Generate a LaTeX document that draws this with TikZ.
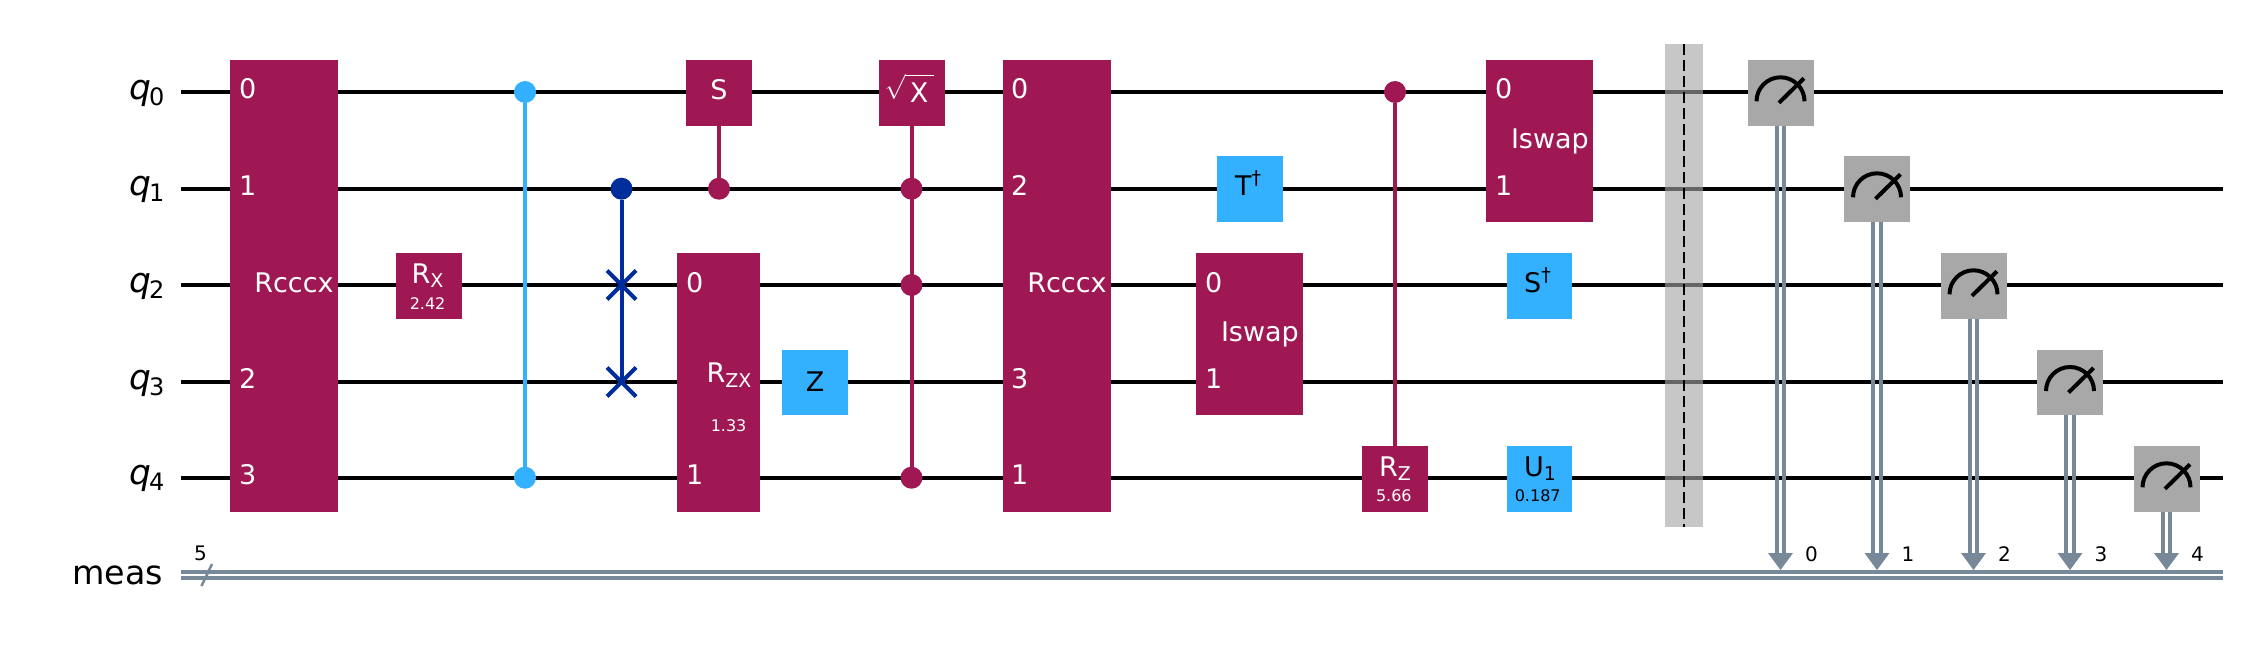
\documentclass[tikz,border=0pt]{standalone}
\usepackage{fontspec}
\setmainfont{DejaVu Sans}
\newcommand{\sbs}[1]{\raisebox{-4.5pt}{\fontsize{19}{20}\selectfont #1}}
\newcommand{\dagg}{\raisebox{11pt}{\fontsize{19}{20}\selectfont †}}
\newcommand{\wsub}[1]{\kern-2pt\raisebox{-6pt}{\fontsize{24}{26}\selectfont\upshape #1}}
\definecolor{mag}{HTML}{9F1853}
\definecolor{sky}{HTML}{33B1FF}
\definecolor{navy}{HTML}{002D9C}
\definecolor{mgray}{HTML}{A8A8A8}
\definecolor{cls}{HTML}{778899}
\tikzset{
 x=1pt,y=-1pt,
 gatebox/.style={rectangle,inner sep=0pt,outer sep=0pt,minimum width=#1},
 wirel/.style={black,line width=4pt},
 clsl/.style={cls,line width=4pt},
 ctrl/.style={line width=4pt},
 gtxt/.style={inner sep=0pt,outer sep=0pt,font=\fontsize{27}{30}\selectfont},
 ptxt/.style={inner sep=0pt,outer sep=0pt,font=\fontsize{16}{18}\selectfont},
 wtxt/.style={inner sep=0pt,outer sep=0pt,font=\fontsize{33.3}{36}\selectfont,anchor=base east},
 qtxt/.style={inner sep=0pt,outer sep=0pt,font=\fontsize{34.5}{38}\selectfont,anchor=base east},
 btxt/.style={inner sep=0pt,outer sep=0pt,font=\fontsize{20}{22}\selectfont,anchor=base},
 dotn/.style={circle,inner sep=0pt,outer sep=0pt,minimum size=22pt},
}
\begin{document}
\begin{tikzpicture}
\useasboundingbox (0,0) rectangle (2245,648);
% wire end points
\foreach \n/\y in {0/92,1/188.7,2/285,3/382,4/477.7}{
  \coordinate (wl\n) at (181,\y);
  \coordinate (wr\n) at (2223,\y);
  \draw[wirel] (wl\n) -- (wr\n);
}
\coordinate (ml1) at (181,572); \coordinate (mr1) at (2223,572);
\coordinate (ml2) at (181,577.7); \coordinate (mr2) at (2223,577.7);
\draw[clsl] (ml1) -- (mr1);
\draw[clsl] (ml2) -- (mr2);
\coordinate (sl1) at (201.5,586); \coordinate (sl2) at (212,564);
\draw[cls,line width=2.5pt] (sl1) -- (sl2);
\node[btxt] (five) at (200.5,560.7) {5};
% wire labels
\node[qtxt] (lq0) at (164.5,99) {\itshape q\wsub{0}};
\node[qtxt] (lq1) at (164.5,195.7) {\itshape q\wsub{1}};
\node[qtxt] (lq2) at (164.5,292) {\itshape q\wsub{2}};
\node[qtxt] (lq3) at (164.5,389) {\itshape q\wsub{3}};
\node[qtxt] (lq4) at (164.5,484.7) {\itshape q\wsub{4}};
\node[wtxt] (lmeas) at (163,584) {meas};
% barrier
\coordinate (bt) at (1684,44); \coordinate (bb) at (1684,526.7);
\fill[color={rgb,255:red,165;green,165;blue,165},opacity=.62] (1665,44) rectangle (1703,526.7);
\draw[black,line width=2pt,dash pattern=on 11pt off 5pt] (bt) -- (bb);
% gates with controls
\node[dotn,fill=sky] (cz0) at (525,92) {};
\node[dotn,fill=sky] (cz4) at (525,477.7) {};
\draw[sky,ctrl] (cz0) -- (cz4);
\node[dotn,fill=navy] (sw1) at (621.5,188.7) {};
\coordinate (sw2) at (621.5,285); \coordinate (sw3) at (621.5,382);
\draw[navy,ctrl] (sw1) -- (sw3);
\draw[navy,ctrl] ([shift={(-14.5,-14.5)}]sw2) -- ([shift={(14.5,14.5)}]sw2);
\draw[navy,ctrl] ([shift={(-14.5,14.5)}]sw2) -- ([shift={(14.5,-14.5)}]sw2);
\draw[navy,ctrl] ([shift={(-14.5,-14.5)}]sw3) -- ([shift={(14.5,14.5)}]sw3);
\draw[navy,ctrl] ([shift={(-14.5,14.5)}]sw3) -- ([shift={(14.5,-14.5)}]sw3);
% Rcccx 1
\fill[mag] (230,60) rectangle (338,511.7);
\node[gtxt,text=white,anchor=base west] (r1a) at (239,98.7) {0};
\node[gtxt,text=white,anchor=base west] (r1b) at (239,195.5) {1};
\node[gtxt,text=white,anchor=base west] (r1c) at (239,388.7) {2};
\node[gtxt,text=white,anchor=base west] (r1d) at (239,484.7) {3};
\node[gtxt,text=white,anchor=base] (r1n) at (294,292.3) {Rcccx};
% Rx
\node[gatebox=66pt,minimum height=65.7pt,fill=mag] (rx) at (429,285.8) {};
\node[gtxt,text=white,anchor=base west] (rxn) at (411.5,283) {R\sbs{X}};
\node[ptxt,text=white,anchor=base] (rxp) at (427.6,309) {2.42};
% S controlled
\node[gatebox=66pt,minimum height=65.7pt,fill=mag] (sg) at (719,92.8) {};
\node[dotn,fill=mag] (sc) at (719,188.7) {};
\draw[mag,ctrl] (sg) -- (sc);
\node[gtxt,text=white,anchor=base] (sn) at (719,99) {S};
% Rzx
\node[gatebox=83pt,minimum height=259pt,fill=mag] (rzx) at (718.5,382.5) {};
\node[gtxt,text=white,anchor=base west] (rzx0) at (686,292) {0};
\node[gtxt,text=white,anchor=base west] (rzx1) at (686,484.7) {1};
\node[gtxt,text=white,anchor=base west] (rzxn) at (706.5,382.7) {R\sbs{ZX}};
\node[ptxt,text=white,anchor=base] (rzxp) at (728.6,431.7) {1.33};
% Z
\node[gatebox=66pt,minimum height=65pt,fill=sky] (zg) at (815,382.5) {};
\node[gtxt,anchor=base] (zn) at (815,391) {Z};
% sqrt X controlled
\node[gatebox=66pt,minimum height=65.7pt,fill=mag] (sx) at (911.5,92.8) {};
\node[dotn,fill=mag] (sx1) at (911.5,188.7) {};
\node[dotn,fill=mag] (sx2) at (911.5,285) {};
\node[dotn,fill=mag] (sx4) at (911.5,477.7) {};
\draw[mag,ctrl] (sx) -- (sx4);
\node[inner sep=0pt,outer sep=0pt,text=white,anchor=north east,font=\fontsize{27}{30}\selectfont] (sxr) at (905.5,74.5) {$\surd$};
\node[gtxt,text=white,anchor=base] (sxn) at (919,102.7) {X};
\coordinate (ov1) at (905,75); \coordinate (ov2) at (934,75);
\draw[white,line width=1pt] (ov1) -- (ov2);
% Rcccx 2
\fill[mag] (1003,60) rectangle (1111,511.7);
\node[gtxt,text=white,anchor=base west] (r2a) at (1011,98.7) {0};
\node[gtxt,text=white,anchor=base west] (r2b) at (1011,195.5) {2};
\node[gtxt,text=white,anchor=base west] (r2c) at (1011,388.7) {3};
\node[gtxt,text=white,anchor=base west] (r2d) at (1011,484.7) {1};
\node[gtxt,text=white,anchor=base] (r2n) at (1067,292.3) {Rcccx};
% Tdg
\node[gatebox=66pt,minimum height=65.7pt,fill=sky] (tg) at (1250,188.8) {};
\node[gtxt,anchor=base] (tn) at (1248,195.7) {T\dagg};
% Iswap 1
\node[gatebox=107pt,minimum height=162pt,fill=mag] (is1) at (1249.5,334) {};
\node[gtxt,text=white,anchor=base west] (is1a) at (1205,292) {0};
\node[gtxt,text=white,anchor=base west] (is1b) at (1205,388.7) {1};
\node[gtxt,text=white,anchor=base west] (is1n) at (1221,341) {Iswap};
% Rz
\node[gatebox=66pt,minimum height=65.7pt,fill=mag] (rz) at (1395,478.8) {};
\node[dotn,fill=mag] (rzc) at (1395,92) {};
\draw[mag,ctrl] (rzc) -- (rz);
\node[gtxt,text=white,anchor=base west] (rzn) at (1379,476) {R\sbs{Z}};
\node[ptxt,text=white,anchor=base] (rzp) at (1393.8,501.7) {5.66};
% Iswap 2
\node[gatebox=107pt,minimum height=161.7pt,fill=mag] (is2) at (1539.5,140.8) {};
\node[gtxt,text=white,anchor=base west] (is2a) at (1495,98.7) {0};
\node[gtxt,text=white,anchor=base west] (is2b) at (1495,195.5) {1};
\node[gtxt,text=white,anchor=base west] (is2n) at (1511,148) {Iswap};
% Sdg
\node[gatebox=65pt,minimum height=65.7pt,fill=sky] (sd) at (1539.5,285.8) {};
\node[gtxt,anchor=base] (sdn) at (1537.5,292.3) {S\dagg};
% U1
\node[gatebox=65pt,minimum height=65.7pt,fill=sky] (u1) at (1539.5,478.8) {};
\node[gtxt,anchor=base west] (u1n) at (1524,476) {U\sbs{1}};
\node[ptxt,anchor=base] (u1p) at (1537.7,501.7) {0.187};
% measures
\foreach \i/\x/\y/\lx in {0/1780.5/92.8/1811.5,1/1877/188.8/1908,2/1973.5/285.8/2004.5,3/2070/382.5/2101,4/2166.5/478.8/2197.5}{
  \node[gatebox=66pt,minimum height=65.7pt,fill=mgray] (m\i) at (\x,\y) {};
  \coordinate (tip\i) at (\x,570);
  \coordinate (neck\i) at (\x,554);
  \draw[clsl] ([xshift=-3.6pt]m\i.south) -- ([xshift=-3.6pt]neck\i);
  \draw[clsl] ([xshift=3.6pt]m\i.south) -- ([xshift=3.6pt]neck\i);
  \fill[cls] (tip\i) -- ([xshift=-12.5pt,yshift=17pt]tip\i) -- ([xshift=12.5pt,yshift=17pt]tip\i) -- cycle;
  \draw[black,line width=4pt] ([shift={(-24,8.5)}]m\i.center) arc[start angle=180,end angle=0,radius=24pt];
  \draw[black,line width=4pt] ([shift={(-1.5,10)}]m\i.center) -- ([shift={(23.5,-14.5)}]m\i.center);
  \node[btxt] (bit\i) at (\lx,561) {\i};
}
\end{tikzpicture}
\end{document}
